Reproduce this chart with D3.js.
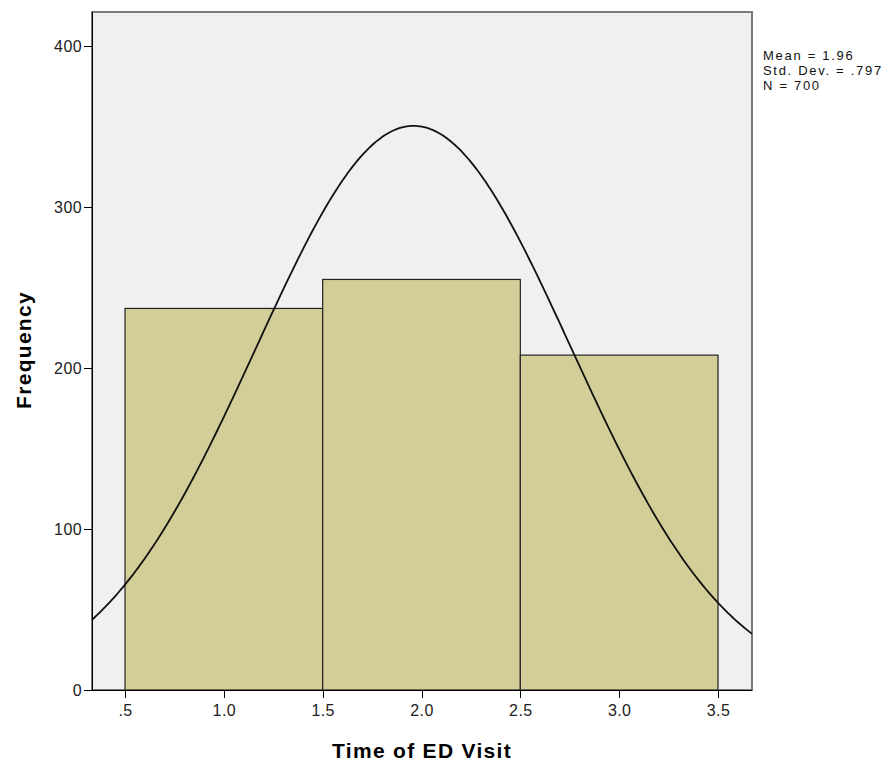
<!DOCTYPE html>
<meta charset="utf-8">
<head>
  <title>Time of ED Visit histogram</title>
</head>
<style>
  body { margin: 0; background: #fff; font-family: "Liberation Sans", Arial, sans-serif; }
  .axis path, .axis line { fill: none; stroke: #000; shape-rendering: crispEdges; }
  .axis text { font: 16px "Liberation Sans", Arial, sans-serif; fill: #222; letter-spacing: 0.4px; }
  .bar { fill: #d3ce97; stroke: #222; stroke-width: 1.2px; }
  .curve { fill: none; stroke: #111; stroke-width: 1.8px; }
  .title { font: bold 21px "Liberation Sans", Arial, sans-serif; fill: #000; letter-spacing: 1.3px; }
  .stats { font: 13px "Liberation Sans", Arial, sans-serif; fill: #111; letter-spacing: 1.7px; }
</style>
<body>
<script src="https://cdn.jsdelivr.net/npm/d3@7"></script>
<script>
// data
var binStarts = [0.5, 1.5, 2.5];
var binEnds = [1.5, 2.5, 3.5];
var counts = [237, 255, 208];
var xTicks = [0.5, 1.0, 1.5, 2.0, 2.5, 3.0, 3.5];
var yTicks = [0, 100, 200, 300, 400];
var statLines = ["Mean = 1.96", "Std. Dev. = .797", "N = 700"];
var mean = 1.96, sd = 0.797, n = 700, binWidth = 1;

var margin = {top: 12, right: 142, bottom: 75, left: 92},
    width = 894 - margin.left - margin.right,
    height = 765 - margin.top - margin.bottom;

var svg = d3.select("body").append("svg")
    .attr("width", 894)
    .attr("height", 765)
  .append("g")
    .attr("transform", "translate(" + margin.left + "," + margin.top + ")");

var x = d3.scaleLinear().domain([0.333, 3.672]).range([0, width]);
var y = d3.scaleLinear().domain([0, 400]).range([height, height - 644]);

// plot background + frame
svg.append("rect")
    .attr("width", width)
    .attr("height", height)
    .attr("fill", "#f0f0f0")
    .attr("stroke", "#7a7a7a")
    .attr("stroke-width", 2);

// bars
svg.selectAll(".bar")
    .data(counts)
  .enter().append("rect")
    .attr("class", "bar")
    .attr("x", function(d, i) { return x(binStarts[i]); })
    .attr("width", function(d, i) { return x(binEnds[i]) - x(binStarts[i]); })
    .attr("y", function(d) { return y(d); })
    .attr("height", function(d) { return y(0) - y(d); });

// normal curve from the chart's mean / sd / N
var pts = d3.range(0, 301).map(function(i) {
  var v = x.domain()[0] + (x.domain()[1] - x.domain()[0]) * i / 300;
  var f = n * binWidth / (sd * Math.sqrt(2 * Math.PI)) * Math.exp(-0.5 * Math.pow((v - mean) / sd, 2));
  return [v, f];
});
svg.append("path")
    .attr("class", "curve")
    .attr("d", d3.line().x(function(d) { return x(d[0]); }).y(function(d) { return y(d[1]); })(pts));

// axes
var xAxis = d3.axisBottom(x).tickValues(xTicks).tickSize(8).tickPadding(7)
    .tickFormat(function(d) { return d === 0.5 ? ".5" : d3.format(".1f")(d); });
svg.append("g")
    .attr("class", "axis")
    .attr("transform", "translate(0," + height + ")")
    .call(xAxis)
    .call(function(g) { g.select(".domain").attr("d", "M0,0.5H" + width); });

var yAxis = d3.axisLeft(y).tickValues(yTicks).tickSize(8).tickPadding(2);
svg.append("g")
    .attr("class", "axis")
    .call(yAxis)
    .call(function(g) { g.select(".domain").attr("d", "M0.5,0V" + height); });

// axis titles
svg.append("text")
    .attr("class", "title")
    .attr("x", width / 2)
    .attr("y", height + 68)
    .style("text-anchor", "middle")
    .text("Time of ED Visit");

svg.append("text")
    .attr("class", "title")
    .attr("transform", "rotate(-90)")
    .attr("x", -338)
    .attr("y", -61)
    .style("text-anchor", "middle")
    .text("Frequency");

// stats box
svg.selectAll(".stats")
    .data(statLines)
  .enter().append("text")
    .attr("class", "stats")
    .attr("x", width + 11)
    .attr("y", function(d, i) { return 48 + i * 15; })
    .text(function(d) { return d; });
</script>
</body>
